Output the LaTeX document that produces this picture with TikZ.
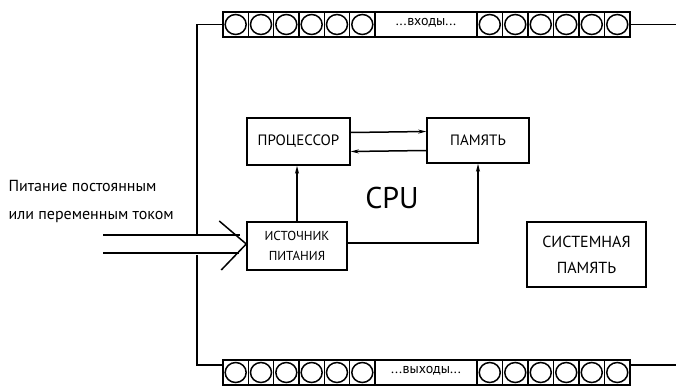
\documentclass[tikz,border=0pt]{standalone}
\usepackage{fontspec}
\setmainfont{PT Sans}
\usepackage{tikz}
\usetikzlibrary{
    shapes.geometric,
    arrows.meta,
    positioning,
    calc
}
\tikzset{
    ublock/.style={
        rectangle, draw=black, line width=1.5pt, fill=white,
        align=center, inner sep=2pt, font=\fontsize{15}{17}\selectfont
    },
    ubar/.style={
        rectangle, draw=black, line width=1.5pt, minimum width=407pt,
        minimum height=25pt, inner sep=0pt
    },
    uline/.style={line width=1.5pt, black},
    uarr/.style={-{Stealth[length=8pt, width=4pt]}, line width=1.5pt, black},
}

\begin{document}
\begin{tikzpicture}[x=1pt, y=-1pt]

    \clip (0,0) rectangle (676,385);

    % terminal rows
    \node [ubar] (inbar)  at (426.5,24.5)  {};
    \node [ubar] (outbar) at (426.5,372.5) {};
    \foreach \yb in {24.5,372.5} {
        \foreach \i in {0,...,5} {
            \draw [uline] ({223+25.33*(\i+1)},\yb-12.5) -- ++(0,25);
            \draw [uline] ({223+25.33*(\i+0.5)},\yb) ellipse [x radius=10.5pt, y radius=10pt];
            \draw [uline] ({477+25.5*\i},\yb-12.5) -- ++(0,25);
            \draw [uline] ({477+25.5*(\i+0.5)},\yb) ellipse [x radius=10.5pt, y radius=10pt];
        }
    }
    \node [font=\fontsize{14}{16}\selectfont] (inlbl)  at (426,23)  {...входы...};
    \node [font=\fontsize{14}{16}\selectfont] (outlbl) at (426,371) {...выходы...};

    % blocks
    \node [ublock, minimum width=103pt, minimum height=47pt] (proc) at (298.5,141.5) {ПРОЦЕССОР};
    \node [ublock, minimum width=102pt, minimum height=45pt] (mem)  at (478,140.5) {ПАМЯТЬ};
    \node [ublock, minimum width=100pt, minimum height=48pt,
           font=\fontsize{13}{20}\selectfont] (ist) at (297,246) {ИСТОЧНИК\\ПИТАНИЯ};
    \node [ublock, minimum width=119pt, minimum height=65pt,
           font=\fontsize{16}{26}\selectfont] (sysmem) at (586.5,254.5) {СИСТЕМНАЯ\\ПАМЯТЬ};
    \node [font=\fontsize{30}{34}\selectfont] (cpu) at (392,198) {CPU};

    \node [anchor=west, align=left, font=\fontsize{16}{28}\selectfont]
        (acin) at (5,201) {Питание постоянным\\или переменным током};

    % links
    \draw [uarr] ([yshift=9pt]proc.east) -- ([yshift=9pt]mem.west);
    \draw [uarr] ([yshift=-10pt]mem.west) -- ([yshift=-10pt]proc.east);
    \draw [uarr] (ist.north) -- (ist.north |- proc.south);
    \draw [uarr] ([yshift=3pt]ist.east) -| (mem.south);

    % supply input
    \coordinate (ptop) at (103,235);
    \coordinate (pbot) at (103,253);
    \draw [uline, shorten >=6pt] (ptop) -- (ptop -| ist.west);
    \draw [uline, shorten >=7pt] (pbot) -- (pbot -| ist.west);
    \draw [uline] ([yshift=2pt]ist.west) -- ++(-27,-23);
    \draw [uline] ([yshift=2pt]ist.west) -- ++(-25,26);

    % bus lines
    \coordinate (lgtop) at (197,234);
    \coordinate (lgbot) at (197,255);
    \coordinate (redge) at (676,0);
    \draw [uline] (inbar.west) -| (lgtop);
    \draw [uline] (lgbot) |- ([yshift=7.5pt]outbar.west);
    \draw [uline] (inbar.east) -- (inbar.east -| redge);
    \draw [uline] ([yshift=7.5pt]outbar.east) -- ([yshift=7.5pt]outbar.east -| redge);

\end{tikzpicture}
\end{document}
